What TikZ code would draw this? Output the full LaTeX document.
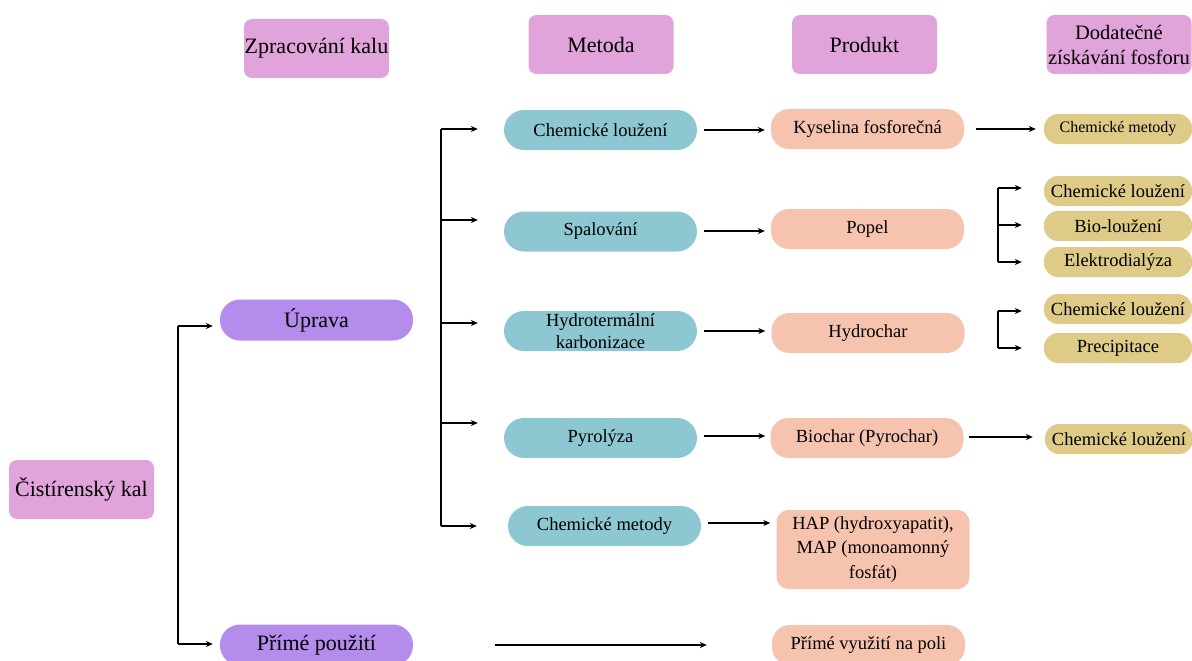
\documentclass[tikz,border=0pt]{standalone}
\usepackage{fontspec}
\setmainfont{Liberation Serif}
\usetikzlibrary{arrows.meta}
\definecolor{hpink}{RGB}{224,164,218}
\definecolor{hpurp}{RGB}{180,140,236}
\definecolor{hteal}{RGB}{140,199,210}
\definecolor{hsalm}{RGB}{246,196,174}
\definecolor{hgold}{RGB}{222,203,135}
\tikzset{
  base/.style={inner sep=0pt, align=center, text=black},
  hdr/.style={base, fill=hpink, rounded corners=8pt, minimum width=145pt, minimum height=59pt, font=\fontsize{22}{25}\selectfont},
  purp/.style={base, fill=hpurp, rounded corners=20pt, minimum width=193pt, minimum height=41pt, font=\fontsize{22}{25}\selectfont},
  tealbox/.style={base, fill=hteal, rounded corners=20pt, minimum width=193pt, minimum height=40pt, font=\fontsize{18.5}{22}\selectfont},
  salmbox/.style={base, fill=hsalm, rounded corners=18pt, minimum width=193pt, minimum height=40pt, font=\fontsize{18.5}{24.5}\selectfont},
  goldbox/.style={base, fill=hgold, rounded corners=14pt, minimum width=148pt, minimum height=30pt, font=\fontsize{18.5}{22}\selectfont},
  arr/.style={draw=black, line width=1.6pt, -{Stealth[length=7pt,width=6pt]}},
  ln/.style={draw=black, line width=1.6pt}
}
\begin{document}
\begin{tikzpicture}[x=1pt,y=-1pt]
\useasboundingbox (0,0) rectangle (1192,661);
% headers
\node[hdr] (zk) at (316.5,48.5) {Zpracování kalu};
\node[hdr] (me) at (601,44.5) {Metoda};
\node[hdr] (pr) at (864.5,44.5) {Produkt};
\node[hdr, font=\fontsize{20.5}{25}\selectfont] (dd) at (1119,44.5) {Dodatečné\\získávání fosforu};
% left
\node[hdr] (ck) at (81.5,489.5) {Čistírenský kal};
\node[purp] (up) at (316.5,320) {Úprava};
\node[purp] (pp) at (316.5,645) {Přímé použití};
% methods
\node[tealbox] (cl) at (600.5,130) {Chemické loužení};
\node[tealbox] (sp) at (600.5,231.5) {Spalování};
\node[tealbox] (hk) at (600.5,331) {Hydrotermální\\karbonizace};
\node[tealbox] (py) at (600.5,438) {Pyrolýza};
\node[tealbox] (cm) at (604.5,526) {Chemické metody};
% products
\node[salmbox] (kf) at (867.5,129) {Kyselina fosforečná};
\node[salmbox] (po) at (867.5,229) {Popel};
\node[salmbox] (hc) at (868,333) {Hydrochar};
\node[salmbox] (bc) at (867,438) {Biochar (Pyrochar)};
\node[salmbox, minimum height=79pt, rounded corners=12pt] (hap) at (873,549.5) {HAP (hydroxyapatit),\\MAP (monoamonný\\fosfát)};
\node[salmbox] (pv) at (868.5,645) {Přímé využití na poli};
% recovery
\node[goldbox, font=\fontsize{16}{18}\selectfont] (g1) at (1118,129) {Chemické metody};
\node[goldbox] (g2) at (1118,191) {Chemické loužení};
\node[goldbox] (g3) at (1118,226) {Bio-loužení};
\node[goldbox] (g4) at (1118,262) {Elektrodialýza};
\node[goldbox] (g5) at (1118,309) {Chemické loužení};
\node[goldbox] (g6) at (1118,348) {Precipitace};
\node[goldbox] (g7) at (1119,439) {Chemické loužení};
% left bracket
\coordinate (l1) at (178,326);
\coordinate (l2) at (178,644);
\draw[ln] (l1) -- (l2);
\draw[arr] (l1) -- ([xshift=-7pt]l1 -| up.west);
\draw[arr] (l2) -- ([xshift=-7pt]l2 -| pp.west);
% middle bracket
\coordinate (m1) at (441,129);
\coordinate (m2) at (441,220);
\coordinate (m3) at (441,323);
\coordinate (m4) at (441,423);
\coordinate (m5) at (441,526);
\draw[ln] (m1) -- (m5);
\draw[arr] (m1) -- ([xshift=-26pt]m1 -| cl.west);
\draw[arr] (m2) -- ([xshift=-26pt]m2 -| sp.west);
\draw[arr] (m3) -- ([xshift=-26pt]m3 -| hk.west);
\draw[arr] (m4) -- ([xshift=-26pt]m4 -| py.west);
\draw[arr] (m5) -- ([xshift=-31pt]m5 -| cm.west);
% method -> product
\draw[arr, shorten <=7pt, shorten >=6pt] (cl.east) -- (cl.east -| kf.west);
\draw[arr, shorten <=7pt, shorten >=6pt] ([yshift=0.5pt]sp.east) -- ([yshift=0.5pt]sp.east -| po.west);
\draw[arr, shorten <=7pt, shorten >=6pt] (hk.east) -- (hk.east -| hc.west);
\draw[arr, shorten <=7pt, shorten >=5pt] ([yshift=2pt]py.east) -- ([yshift=2pt]py.east -| bc.west);
\draw[arr, shorten <=7pt, shorten >=6pt] ([yshift=3pt]cm.east) -- ([yshift=3pt]cm.east -| hap.west);
\draw[arr, shorten <=82pt, shorten >=65pt] (pp) -- (pv);
% product -> recovery
\draw[arr, shorten <=12pt, shorten >=8pt] (kf.east) -- (kf.east -| g1.west);
\draw[arr, shorten <=5pt, shorten >=12pt] ([yshift=1pt]bc.east) -- ([yshift=1pt]bc.east -| g7.west);
% right brackets
\coordinate (r1) at (998,188);
\coordinate (r2) at (998,225);
\coordinate (r3) at (998,262);
\draw[ln] (r1) -- (r3);
\draw[arr] (r1) -- ([xshift=-22pt]r1 -| g2.west);
\draw[arr] (r2) -- ([xshift=-22pt]r2 -| g3.west);
\draw[arr] (r3) -- ([xshift=-22pt]r3 -| g4.west);
\coordinate (s1) at (998,311);
\coordinate (s2) at (998,348);
\draw[ln] (s1) -- (s2);
\draw[arr] (s1) -- ([xshift=-22pt]s1 -| g5.west);
\draw[arr] (s2) -- ([xshift=-22pt]s2 -| g6.west);
\end{tikzpicture}
\end{document}
